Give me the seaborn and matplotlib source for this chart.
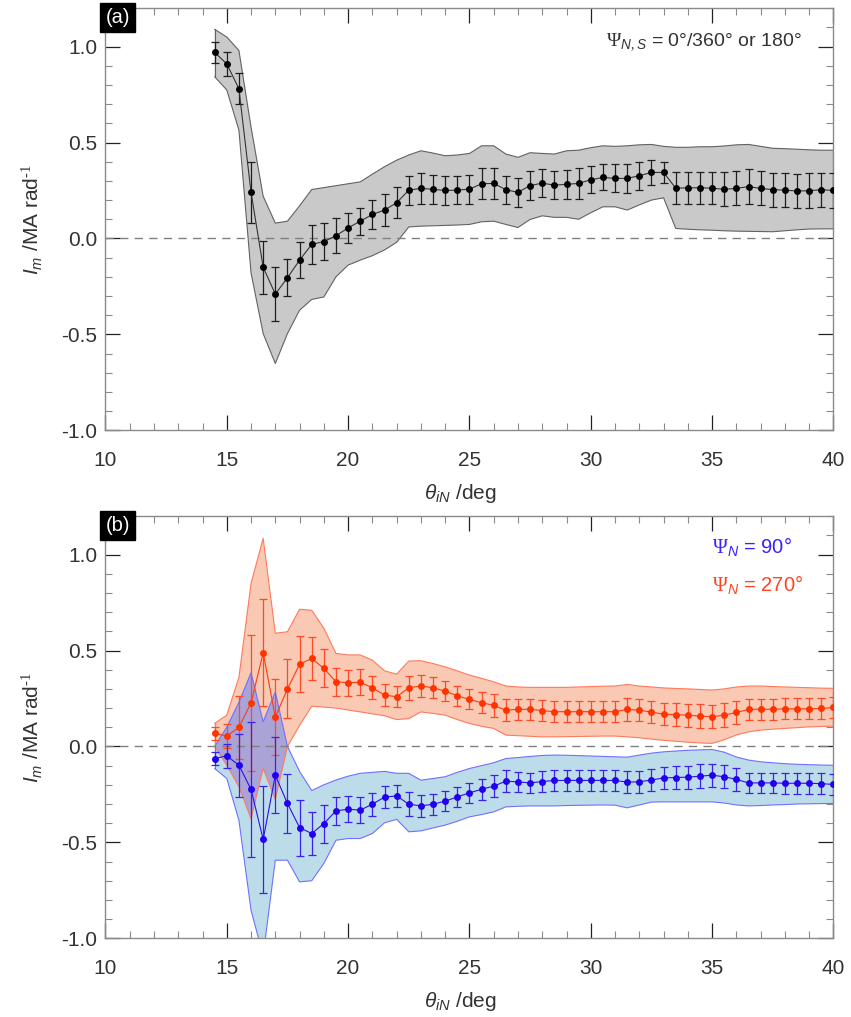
import numpy as np
import matplotlib
matplotlib.use("Agg")
import matplotlib.pyplot as plt
from matplotlib.ticker import MultipleLocator, FormatStrFormatter
import seaborn as sns

# ---- data -------------------------------------------------------------
theta = [14.5, 15.0, 15.5, 16.0, 16.5, 17.0, 17.5, 18.0, 18.5, 19.0,
         19.5, 20.0, 20.5, 21.0, 21.5, 22.0, 22.5, 23.0, 23.5, 24.0,
         24.5, 25.0, 25.5, 26.0, 26.5, 27.0, 27.5, 28.0, 28.5, 29.0,
         29.5, 30.0, 30.5, 31.0, 31.5, 32.0, 32.5, 33.0, 33.5, 34.0,
         34.5, 35.0, 35.5, 36.0, 36.5, 37.0, 37.5, 38.0, 38.5, 39.0,
         39.5, 40.0]

# panel (a): Psi_N,S = 0/360 or 180 deg
im_a = [0.97, 0.91, 0.78, 0.24, -0.15, -0.29, -0.205, -0.113, -0.031, -0.016,
        0.014, 0.055, 0.09, 0.125, 0.148, 0.186, 0.252, 0.261, 0.256, 0.25,
        0.252, 0.257, 0.285, 0.287, 0.254, 0.24, 0.276, 0.288, 0.278, 0.282,
        0.287, 0.306, 0.318, 0.313, 0.313, 0.327, 0.344, 0.344, 0.262, 0.264,
        0.264, 0.262, 0.256, 0.261, 0.27, 0.261, 0.254, 0.252, 0.247, 0.249,
        0.254, 0.25]
err_a = [0.055, 0.063, 0.08, 0.16, 0.139, 0.139, 0.097, 0.093, 0.10, 0.097,
         0.09, 0.078, 0.071, 0.075, 0.082, 0.082, 0.076, 0.08, 0.076, 0.075,
         0.071, 0.076, 0.08, 0.08, 0.074, 0.075, 0.077, 0.073, 0.072, 0.077,
         0.081, 0.071, 0.068, 0.073, 0.074, 0.073, 0.063, 0.057, 0.084, 0.083,
         0.083, 0.085, 0.088, 0.088, 0.09, 0.088, 0.089, 0.09, 0.09, 0.09,
         0.089, 0.089]
hi_a = [1.09, 1.05, 0.98, 0.58, 0.22, 0.08, 0.09, 0.17, 0.255, 0.265,
        0.275, 0.285, 0.295, 0.335, 0.374, 0.408, 0.435, 0.457, 0.445, 0.431,
        0.435, 0.443, 0.483, 0.483, 0.44, 0.423, 0.447, 0.443, 0.44, 0.457,
        0.46, 0.473, 0.483, 0.48, 0.483, 0.488, 0.49, 0.48, 0.475, 0.475,
        0.478, 0.478, 0.482, 0.488, 0.49, 0.48, 0.47, 0.468, 0.465, 0.462,
        0.46, 0.46]
lo_a = [0.843, 0.774, 0.565, -0.18, -0.496, -0.652, -0.496, -0.374, -0.318, -0.305,
        -0.2, -0.139, -0.113, -0.09, -0.06, -0.02, 0.06, 0.064, 0.066, 0.068,
        0.07, 0.073, 0.087, 0.09, 0.073, 0.057, 0.099, 0.118, 0.11, 0.11,
        0.1, 0.134, 0.165, 0.165, 0.148, 0.175, 0.2, 0.212, 0.052, 0.048,
        0.045, 0.043, 0.04, 0.038, 0.037, 0.036, 0.035, 0.04, 0.045, 0.049,
        0.05, 0.05]

# panel (b): Psi_N = 270 deg (red) and Psi_N = 90 deg (blue)
im_270 = [0.068, 0.054, 0.099, 0.227, 0.488, 0.153, 0.30, 0.428, 0.459, 0.407,
          0.337, 0.332, 0.334, 0.306, 0.268, 0.259, 0.306, 0.315, 0.306, 0.288,
          0.264, 0.245, 0.228, 0.214, 0.189, 0.193, 0.194, 0.187, 0.181, 0.181,
          0.181, 0.181, 0.181, 0.181, 0.193, 0.189, 0.179, 0.168, 0.166, 0.163,
          0.158, 0.155, 0.163, 0.177, 0.193, 0.194, 0.194, 0.196, 0.196, 0.196,
          0.198, 0.203]
im_90 = [-0.063, -0.049, -0.098, -0.224, -0.485, -0.15, -0.297, -0.423, -0.454, -0.402,
         -0.336, -0.327, -0.332, -0.301, -0.264, -0.258, -0.301, -0.31, -0.301, -0.285,
         -0.263, -0.242, -0.223, -0.207, -0.181, -0.185, -0.19, -0.183, -0.177, -0.177,
         -0.177, -0.177, -0.177, -0.177, -0.186, -0.184, -0.175, -0.164, -0.162, -0.16,
         -0.155, -0.15, -0.158, -0.172, -0.19, -0.19, -0.19, -0.192, -0.192, -0.192,
         -0.194, -0.198]
err_b = [0.033, 0.062, 0.165, 0.353, 0.278, 0.197, 0.154, 0.146, 0.114, 0.099,
         0.073, 0.068, 0.068, 0.059, 0.057, 0.056, 0.063, 0.058, 0.055, 0.052,
         0.052, 0.052, 0.055, 0.058, 0.056, 0.054, 0.054, 0.055, 0.056, 0.056,
         0.056, 0.056, 0.056, 0.056, 0.058, 0.058, 0.057, 0.058, 0.059, 0.06,
         0.061, 0.061, 0.061, 0.058, 0.054, 0.054, 0.054, 0.054, 0.054, 0.054,
         0.054, 0.054]
hi_270 = [0.12, 0.163, 0.36, 0.85, 1.085, 0.59, 0.598, 0.715, 0.71, 0.616,
          0.485, 0.477, 0.477, 0.45, 0.394, 0.377, 0.445, 0.447, 0.432, 0.415,
          0.394, 0.372, 0.355, 0.337, 0.315, 0.31, 0.308, 0.308, 0.308, 0.308,
          0.31, 0.312, 0.314, 0.315, 0.323, 0.315, 0.31, 0.305, 0.302, 0.30,
          0.297, 0.294, 0.30, 0.31, 0.315, 0.315, 0.312, 0.31, 0.308, 0.306,
          0.304, 0.303]
lo_270 = [0.0, -0.098, -0.21, -0.376, -0.115, -0.276, 0.0, 0.11, 0.21, 0.205,
          0.2, 0.19, 0.18, 0.17, 0.16, 0.14, 0.145, 0.18, 0.172, 0.163,
          0.14, 0.12, 0.105, 0.094, 0.059, 0.056, 0.053, 0.05, 0.05, 0.051,
          0.052, 0.053, 0.054, 0.054, 0.05, 0.045, 0.038, 0.032, 0.027, 0.022,
          0.018, 0.016, 0.035, 0.06, 0.076, 0.085, 0.09, 0.094, 0.098, 0.102,
          0.104, 0.106]
hi_90 = [0.0, 0.10, 0.23, 0.384, 0.128, 0.285, 0.0, -0.13, -0.23, -0.2,
         -0.175, -0.155, -0.14, -0.135, -0.13, -0.14, -0.14, -0.176, -0.167, -0.158,
         -0.135, -0.115, -0.10, -0.085, -0.063, -0.058, -0.052, -0.047, -0.045, -0.046,
         -0.048, -0.05, -0.052, -0.054, -0.056, -0.045, -0.035, -0.028, -0.024, -0.02,
         -0.018, -0.016, -0.03, -0.055, -0.071, -0.08, -0.085, -0.09, -0.093, -0.095,
         -0.097, -0.098]
lo_90 = [-0.115, -0.167, -0.385, -0.854, -1.09, -0.593, -0.593, -0.706, -0.70, -0.61,
         -0.489, -0.48, -0.48, -0.454, -0.398, -0.38, -0.445, -0.44, -0.425, -0.41,
         -0.39, -0.367, -0.355, -0.341, -0.315, -0.312, -0.31, -0.31, -0.31, -0.308,
         -0.307, -0.306, -0.305, -0.306, -0.32, -0.305, -0.29, -0.289, -0.289, -0.289,
         -0.289, -0.289, -0.295, -0.305, -0.31, -0.308, -0.305, -0.303, -0.30, -0.299,
         -0.298, -0.297]

x_ticks = [10, 15, 20, 25, 30, 35, 40]
y_ticks = [-1.0, -0.5, 0.0, 0.5, 1.0]

# ---- style ------------------------------------------------------------
sns.set_theme(style="ticks")
plt.rcParams["font.family"] = ["Liberation Sans", "DejaVu Sans"]
plt.rcParams["mathtext.fontset"] = "custom"
plt.rcParams["mathtext.rm"] = "Liberation Serif"
plt.rcParams["mathtext.it"] = "Liberation Sans:italic"
plt.rcParams["mathtext.sf"] = "Liberation Sans"
plt.rcParams["mathtext.bf"] = "Liberation Sans:bold"

TXT = "#333333"
AX_GREY = "#8a8a8a"

fig = plt.figure(figsize=(8.51, 10.17), dpi=100)
ax_a = fig.add_axes([0.1239, 0.5769, 0.8555, 0.415])
ax_b = fig.add_axes([0.1239, 0.0774, 0.8555, 0.415])

x = np.array(theta)


def style_axes(ax, tag):
    ax.set_xlim(10, 40)
    ax.set_ylim(-1.0, 1.2)
    ax.set_xticks(x_ticks)
    ax.set_yticks(y_ticks)
    ax.xaxis.set_minor_locator(MultipleLocator(1))
    ax.yaxis.set_minor_locator(MultipleLocator(0.1))
    ax.yaxis.set_major_formatter(FormatStrFormatter("%.1f"))
    for s in ax.spines.values():
        s.set_color(AX_GREY)
        s.set_linewidth(1.0)
    ax.tick_params(which="both", direction="in", top=True, right=True,
                   labelsize=15, labelcolor=TXT)
    ax.tick_params(which="major", length=10.5, width=0.9, color="#222222")
    ax.tick_params(which="minor", length=5, width=0.8, color=AX_GREY)
    ax.tick_params(axis="x", which="major", pad=15)
    ax.tick_params(axis="y", which="major", pad=6)
    ax.axhline(0, color="#808080", lw=1.0, ls=(0, (6, 4.5)), zorder=3)
    ax.set_xlabel(r"$\theta_{iN}$ /deg", fontsize=15, color=TXT)
    ax.set_ylabel(r"$I_m$ /MA rad$^{\text{-1}}$", fontsize=15, color=TXT)
    ax.xaxis.set_label_coords(0.488, -0.122)
    ax.yaxis.set_label_coords(-0.083, 0.5)
    ax.text(0.0, 1.0, tag, transform=ax.transAxes, ha="left", va="top",
            color="white", fontsize=14.5, zorder=10,
            bbox=dict(boxstyle="square,pad=0.25", facecolor="black",
                      edgecolor="black"))


def draw_series(ax, mean, err, lo, hi, dot, line, ebar, fill, edge, z=4):
    ax.fill_between(x, lo, hi, facecolor=fill, edgecolor="none", zorder=1)
    ax.plot(x, hi, color=edge, lw=0.8, zorder=2.5)
    ax.plot(x, lo, color=edge, lw=0.8, zorder=2.5)
    ax.plot([x[0], x[0]], [lo[0], hi[0]], color=edge, lw=0.8, zorder=2.5)
    ax.plot([x[-1], x[-1]], [lo[-1], hi[-1]], color=edge, lw=0.8, zorder=2.5)
    ax.errorbar(x, mean, yerr=err, fmt="none", ecolor=ebar, elinewidth=0.9,
                capsize=2.9, capthick=0.9, zorder=z)
    sns.lineplot(x=x, y=mean, ax=ax, color=line, lw=0.8, marker="o",
                 markersize=5.0, markerfacecolor=dot, markeredgecolor=dot,
                 markeredgewidth=0, sort=False, errorbar=None, zorder=z + 0.5)


# ---- panel (a) --------------------------------------------------------
draw_series(ax_a, im_a, err_a, lo_a, hi_a, dot="black", line="#333333",
            ebar="#1e1e1e", fill="#c9c9c9", edge="#626262")
style_axes(ax_a, "(a)")
ax_a.text(0.956, 0.92, r"$\Psi_{N,S}$ = 0°/360° or 180°", transform=ax_a.transAxes,
          ha="right", va="center", fontsize=14, color=TXT)

# ---- panel (b) --------------------------------------------------------
draw_series(ax_b, im_270, err_b, lo_270, hi_270, dot="#ff3300", line="#ff3a10",
            ebar="#ff4a28", fill="#f9c9b3", edge="#ff7a5c", z=4)
draw_series(ax_b, im_90, err_b, lo_90, hi_90, dot="#2200ee", line="#2a10ee",
            ebar="#3a22ee", fill="#bddcea", edge="#7070ff", z=5)
# overlap of the two bands
ov_lo = np.maximum(lo_270, lo_90)
ov_hi = np.minimum(hi_270, hi_90)
ax_b.fill_between(x, ov_lo, ov_hi, where=ov_hi > ov_lo, interpolate=True,
                  facecolor="#a9a3d6", edgecolor="none", zorder=1.5)
style_axes(ax_b, "(b)")
ax_b.text(0.833, 0.927, r"$\Psi_N$ = 90°", transform=ax_b.transAxes,
          ha="left", va="center", fontsize=14.5, color="#3a22ff")
ax_b.text(0.833, 0.837, r"$\Psi_N$ = 270°", transform=ax_b.transAxes,
          ha="left", va="center", fontsize=14.5, color="#ff4422")

fig.savefig("out.png", dpi=100)
